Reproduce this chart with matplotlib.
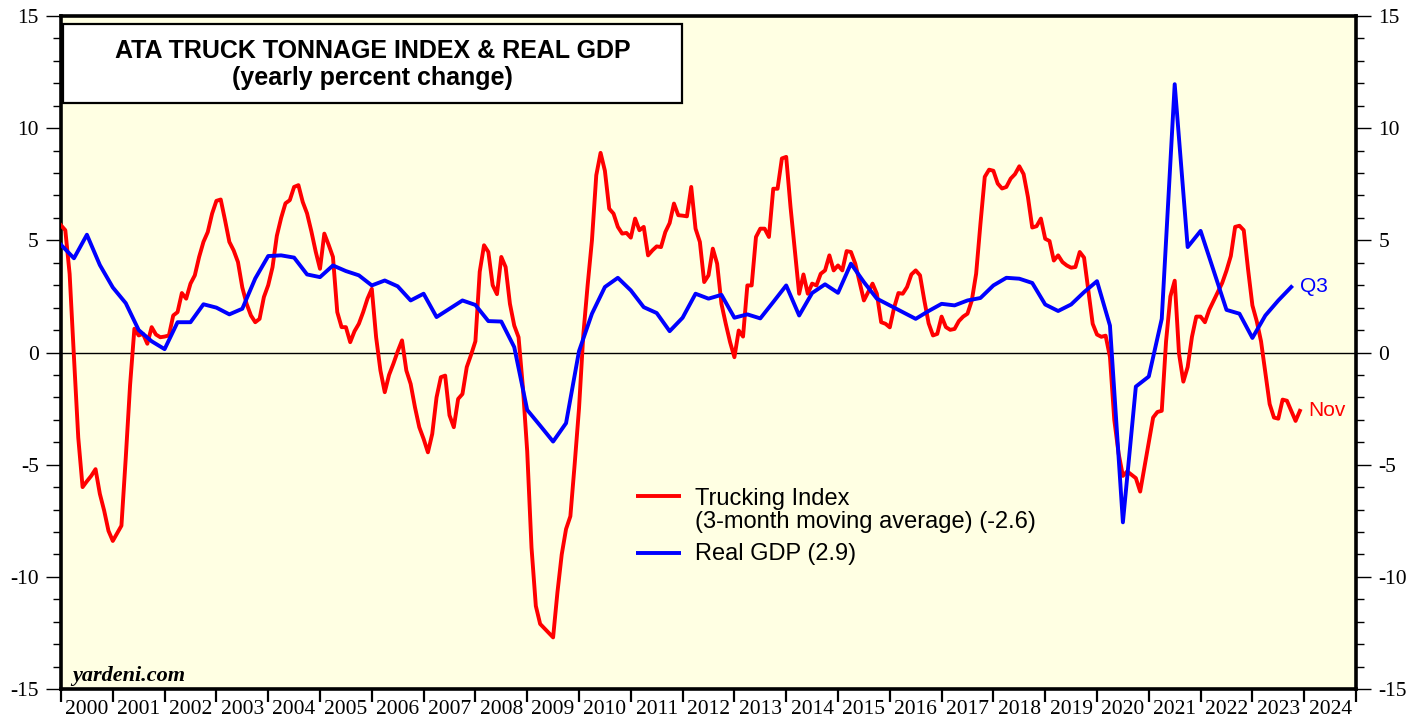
import matplotlib
matplotlib.use("Agg")
import matplotlib.pyplot as plt
import numpy as np
from matplotlib.patches import Rectangle

plt.rcParams["font.family"] = ["Liberation Serif", "DejaVu Serif"]
plt.rcParams["axes.unicode_minus"] = False

# ATA truck tonnage, 3-month moving average, yearly % change (Dec 1999 .. Nov 2023)
TRUCKING_3MMA = [
    5.67, 5.45, 3.5, -0.2, -3.8, -6.0, -5.74, -5.5, -5.2, -6.3, -7.05, -7.95,
    -8.4, -8.06, -7.72, -4.7, -1.46, 1.06, 0.76, 0.83, 0.39, 1.13, 0.8, 0.68,
    0.71, 0.76, 1.65, 1.8, 2.65, 2.4, 3.07, 3.44, 4.26, 4.93, 5.37, 6.19,
    6.76, 6.82, 5.9, 4.93, 4.55, 4.03, 2.9, 2.17, 1.65, 1.35, 1.5, 2.47,
    3.0, 3.8, 5.2, 6.0, 6.65, 6.79, 7.38, 7.46, 6.71, 6.2, 5.4, 4.5,
    3.73, 5.3, 4.8, 4.26, 1.8, 1.13, 1.13, 0.46, 0.95, 1.28, 1.8, 2.4,
    2.84, 0.68, -0.8, -1.77, -1.0, -0.5, 0.05, 0.54, -0.8, -1.4, -2.44, -3.33,
    -3.85, -4.45, -3.63, -2.0, -1.1, -1.03, -2.8, -3.33, -2.07, -1.85, -0.65, -0.1,
    0.5, 3.6, 4.78, 4.48, 3.0, 2.6, 4.26, 3.81, 2.17, 1.2, 0.68, -1.55,
    -4.4, -8.7, -11.3, -12.1, -12.3, -12.5, -12.7, -10.7, -9.0, -7.87, -7.3, -4.97,
    -2.5, 0.8, 3.0, 5.0, 7.9, 8.9, 8.1, 6.41, 6.19, 5.6, 5.3, 5.33,
    5.12, 5.97, 5.45, 5.6, 4.33, 4.55, 4.73, 4.7, 5.37, 5.77, 6.64, 6.12,
    6.1, 6.07, 7.38, 5.52, 4.93, 3.14, 3.44, 4.63, 3.96, 2.17, 1.28, 0.46,
    -0.21, 0.98, 0.71, 2.99, 2.99, 5.15, 5.52, 5.52, 5.15, 7.3, 7.3, 8.65,
    8.72, 6.49, 4.55, 2.62, 3.48, 2.62, 3.07, 2.99, 3.51, 3.66, 4.33, 3.66,
    3.88, 3.66, 4.52, 4.48, 3.96, 3.14, 2.32, 2.69, 3.07, 2.62, 1.35, 1.28,
    1.12, 2.0, 2.65, 2.62, 2.92, 3.48, 3.66, 3.44, 2.32, 1.3, 0.76, 0.83,
    1.6, 1.13, 1.01, 1.05, 1.4, 1.6, 1.73, 2.32, 3.51, 5.74, 7.83, 8.15,
    8.1, 7.53, 7.31, 7.38, 7.75, 7.95, 8.3, 7.95, 6.93, 5.57, 5.63, 5.97,
    5.07, 4.97, 4.1, 4.33, 4.03, 3.88, 3.78, 3.81, 4.48, 4.23, 2.77, 1.28,
    0.8, 0.7, 0.75, -0.2, -3.0, -4.5, -5.5, -5.3, -5.45, -5.6, -6.2, -5.1,
    -4.0, -2.9, -2.65, -2.6, 0.5, 2.5, 3.2, -0.05, -1.3, -0.65, 0.7, 1.6,
    1.6, 1.35, 1.9, 2.3, 2.7, 3.1, 3.65, 4.3, 5.6, 5.65, 5.45, 3.7,
    2.1, 1.4, 0.5, -0.9, -2.3, -2.9, -2.95, -2.1, -2.15, -2.6, -3.05, -2.6,
]

# Real GDP, yearly % change (1999Q4 .. 2023Q3)
REAL_GDP = [
    4.8, 4.2, 5.25, 3.9, 2.9, 2.2, 1.0, 0.5, 0.15, 1.35, 1.35, 2.15,
    2.0, 1.7, 1.95, 3.3, 4.3, 4.33, 4.23, 3.48, 3.36, 3.88, 3.63, 3.44,
    2.99, 3.21, 2.95, 2.32, 2.62, 1.58, 1.95, 2.32, 2.12, 1.4, 1.38, 0.24,
    -2.56, -3.26, -3.97, -3.15, 0.06, 1.73, 2.92, 3.33, 2.77, 2.02, 1.76, 0.95,
    1.55, 2.62, 2.4, 2.57, 1.55, 1.7, 1.52, 2.25, 2.99, 1.65, 2.65, 3.04,
    2.66, 3.96, 3.14, 2.4, 2.1, 1.8, 1.5, 1.85, 2.17, 2.1, 2.32, 2.43,
    2.99, 3.33, 3.29, 3.1, 2.14, 1.85, 2.14, 2.69, 3.18, 1.2, -7.57, -1.52,
    -1.07, 1.5, 11.96, 4.7, 5.42, 3.66, 1.9, 1.73, 0.65, 1.65, 2.32, 2.92,
]

YEARS = list(range(2000, 2025))
TITLE = "ATA TRUCK TONNAGE INDEX & REAL GDP"
SUBTITLE = "(yearly percent change)"
TRUCK_LABEL = ["Trucking Index", "(3-month moving average) (-2.6)"]
GDP_LABEL = "Real GDP (2.9)"

RED = "#ff0000"
BLUE = "#0000ff"
BG = "#ffffe3"
SANS = ["Liberation Sans", "DejaVu Sans"]

# month-end / quarter-end positions on a decimal-year axis
t_truck = 2000 + np.arange(len(TRUCKING_3MMA)) / 12
t_gdp = 2000 + np.arange(len(REAL_GDP)) / 4

W, H = 1427, 719
L, R, T, B = 61, 1356, 16, 689
fig = plt.figure(figsize=(W / 100, H / 100), dpi=100)
ax = fig.add_axes([L / W, 1 - B / H, (R - L) / W, (B - T) / H])
ax.set_facecolor(BG)


def ax_xy(px, py):
    """pixel position in the picture -> axes fraction"""
    return (px - L) / (R - L), (B - py) / (B - T)


ax.axhline(0, color="black", lw=1.0, zorder=2)
ax.plot(t_truck, TRUCKING_3MMA, color=RED, lw=2.8, solid_joinstyle="round", zorder=3)
ax.plot(t_gdp, REAL_GDP, color=BLUE, lw=2.8, solid_joinstyle="round", zorder=4)

ax.set_xlim(2000, 2025)
ax.set_ylim(-15, 15)

# y axis: labels on both sides, all ticks outward
ax.set_yticks(np.arange(-15, 16, 5))
ax.set_yticks(np.arange(-15, 16, 1), minor=True)
ax.tick_params(axis="y", which="both", direction="out", left=True, right=True,
               labelleft=True, labelright=True, width=1.0, labelsize=15.5)
ax.tick_params(axis="y", which="major", length=11, pad=5)
ax.tick_params(axis="y", which="minor", length=5.5)

# x axis: ticks at year boundaries, year names centred between them
ax.set_xticks(YEARS + [2025], labels=[""] * (len(YEARS) + 1))
ax.set_xticks(np.array(YEARS) + 0.5, labels=[str(y) for y in YEARS], minor=True)
ax.tick_params(axis="x", which="major", direction="out", length=9.5, width=1.6)
ax.tick_params(axis="x", which="minor", length=0, pad=8, labelsize=15.5)

for s in ax.spines.values():
    s.set_linewidth(2.6)
    s.set_color("black")

# title box
bx0, by1 = ax_xy(63, 24)
bx1, by0 = ax_xy(682, 103)
ax.add_patch(Rectangle((bx0, by0), bx1 - bx0, by1 - by0, transform=ax.transAxes,
                       facecolor="white", edgecolor="black", lw=1.6, zorder=6))
cx = (bx0 + bx1) / 2
ax.text(cx, ax_xy(0, 58)[1], TITLE, transform=ax.transAxes, ha="center", va="baseline",
        fontsize=18, fontweight="bold", family=SANS, zorder=7)
ax.text(cx, ax_xy(0, 85)[1], SUBTITLE, transform=ax.transAxes, ha="center", va="baseline",
        fontsize=18, fontweight="bold", family=SANS, zorder=7)

# legend
lx0, _ = ax_xy(636, 0)
lx1, _ = ax_xy(681, 0)
tx, _ = ax_xy(695, 0)
ax.plot([lx0, lx1], [ax_xy(0, 496)[1]] * 2, color=RED, lw=2.8, transform=ax.transAxes,
        solid_capstyle="butt")
ax.plot([lx0, lx1], [ax_xy(0, 553)[1]] * 2, color=BLUE, lw=2.8, transform=ax.transAxes,
        solid_capstyle="butt")
ax.text(tx, ax_xy(0, 505)[1], TRUCK_LABEL[0], transform=ax.transAxes, va="baseline",
        fontsize=17, family=SANS)
ax.text(tx, ax_xy(0, 528)[1], TRUCK_LABEL[1], transform=ax.transAxes, va="baseline",
        fontsize=17, family=SANS)
ax.text(tx, ax_xy(0, 560)[1], GDP_LABEL, transform=ax.transAxes, va="baseline",
        fontsize=17, family=SANS)

# end-point labels
ax.annotate("Q3", xy=(t_gdp[-1], REAL_GDP[-1]), xytext=(6, 0), textcoords="offset points",
            va="center", ha="left", color=BLUE, fontsize=15, family=SANS)
ax.annotate("Nov", xy=(t_truck[-1], TRUCKING_3MMA[-1]), xytext=(6, 0),
            textcoords="offset points", va="center", ha="left", color=RED,
            fontsize=15, family=SANS)

ax.text(*ax_xy(72, 681), "yardeni.com", transform=ax.transAxes, va="baseline",
        fontsize=16, fontweight="bold", fontstyle="italic")

fig.savefig("out.png", dpi=100, facecolor="white")
